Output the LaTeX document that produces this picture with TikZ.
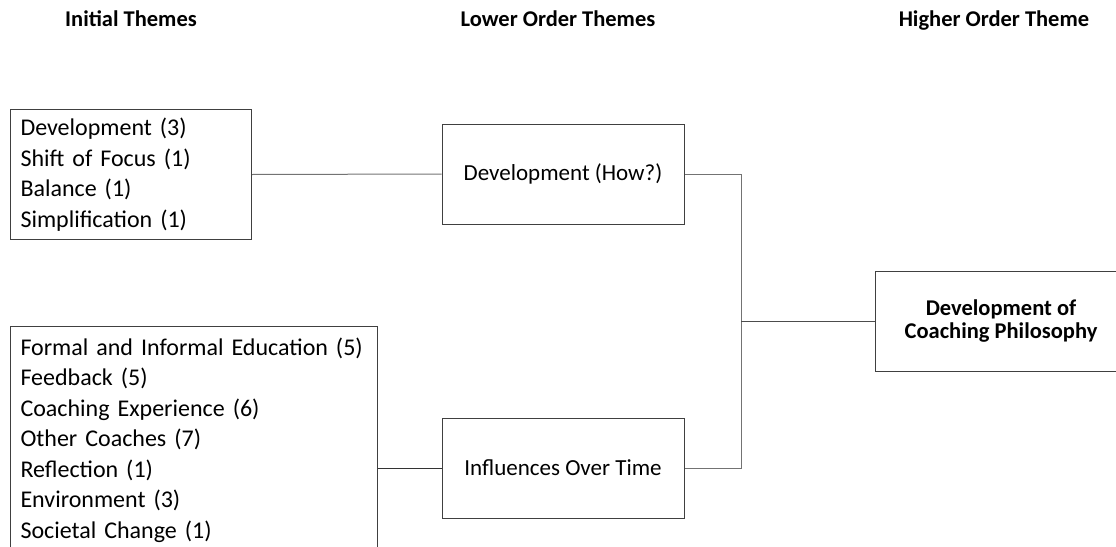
\documentclass[tikz,border=0pt]{standalone}
\usepackage{fontspec}
\setmainfont{Carlito}
\usetikzlibrary{positioning}

\begin{document}
\begin{tikzpicture}[x=1pt,y=-1pt,
    theme/.style={draw=black!75,line width=1pt,minimum width=242pt,minimum height=100pt,inner sep=0pt,font=\fontsize{23}{28}\selectfont},
    listbox/.style={draw=black!75,line width=1pt,align=left,inner xsep=10pt,inner ysep=0pt,anchor=north west,font=\fontsize{24}{30.5}\selectfont},
    heading/.style={anchor=base,font=\bfseries\fontsize{22.5}{25}\selectfont},
    link/.style={line width=1pt,black!55}]

    % Seite
    \useasboundingbox (0,0) rectangle (1116,546);
    \clip (0,0) rectangle (1116,546);

    % Ueberschriften
    \node[heading] (hInitial) at (131,26) {Initial Themes};
    \node[heading] (hLower) at (558,26) {Lower Order Themes};
    \node[heading] (hHigher) at (994,26) {Higher Order Theme};

    % Initial Themes
    \node[listbox,text width=221pt,minimum height=130pt] (initA) at (10,109)
        {Development (3)\\Shift of Focus (1)\\Balance (1)\\Simplification (1)};
    \node[listbox,text width=347pt,minimum height=227pt] (initB) at (10,326)
        {Formal and Informal Education (5)\\Feedback (5)\\Coaching Experience (6)\\Other Coaches (7)\\Reflection (1)\\Environment (3)\\Societal Change (1)};

    % Lower Order Themes
    \node[theme] (devHow) at (563,174) {Development (How?)};
    \node[theme] (influences) at (563,468) {Influences Over Time};

    % Higher Order Theme
    \node[theme,minimum width=252pt,align=center,font=\bfseries\fontsize{22.5}{23}\selectfont] (philosophy) at (1001,321)
        {Development of\\Coaching Philosophy};

    % Verbindungen
    \coordinate (join) at (741,321);
    \draw[link] (initA.east) -- (devHow.west);
    \draw[link,black!80] (initB.east |- influences.west) -- (influences.west);
    \draw[link] (devHow.east) -| (join);
    \draw[link] (join) |- (influences.east);
    \draw[link,black!70] (join) -- (philosophy.west);
\end{tikzpicture}
\end{document}
